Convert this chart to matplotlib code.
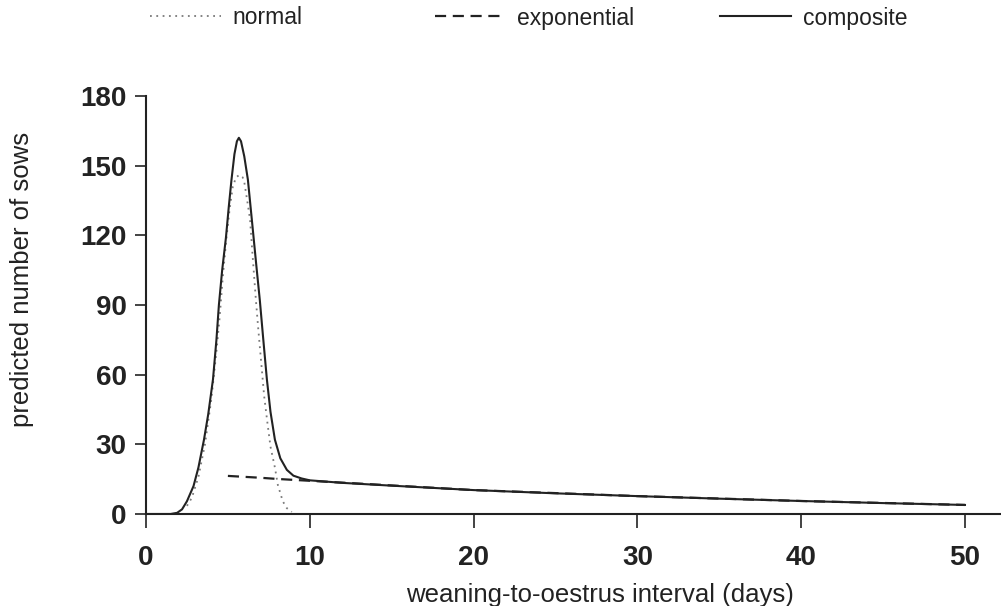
import matplotlib
matplotlib.use('Agg')
from matplotlib import pyplot as plt

plt.rcParams['font.family'] = ['Liberation Sans', 'DejaVu Sans']

# values
comp_x = [0, 1.0, 1.5, 1.9, 2.2, 2.5, 2.9, 3.2, 3.54, 3.8, 4.09, 4.3, 4.45, 4.65,
          4.88, 5.05, 5.22, 5.4, 5.55, 5.67, 5.8, 6.0, 6.22, 6.5, 6.75, 6.95,
          7.15, 7.38, 7.6, 7.87, 8.2, 8.6, 9.0, 9.5, 10,
          12, 15, 20, 25, 30, 35, 40, 45, 50]
comp_y = [0, 0, 0, 0.5, 2, 5.5, 12, 20, 32, 43, 58, 75, 90, 105,
          119, 132, 144, 155, 160.5, 162, 160.5, 154, 144, 124, 106, 92,
          76, 58, 44, 32, 24, 19, 16.5, 15.3, 14.5,
          13.4, 12.2, 10.3, 8.9, 7.7, 6.6, 5.6, 4.7, 3.9]

norm_x = [2.5, 2.8, 3.2, 3.6, 4.0, 4.3, 4.5, 4.7, 4.9, 5.1, 5.3, 5.5, 5.7, 5.9,
          6.0, 6.2, 6.35, 6.5, 6.7, 6.85, 7.05, 7.21, 7.4, 7.6, 7.87, 8.05,
          8.35, 8.6, 8.9]
norm_y = [3.5, 7, 16, 30, 50, 70, 85, 103, 118, 131, 141, 145, 146, 145,
          143, 134, 127, 112, 93, 80, 64, 51, 40, 29, 20, 12.5,
          5.5, 2.5, 0.9]

expo_x = [5, 6, 7, 8, 9, 10, 20, 30, 40, 50]
expo_y = [16.4, 16.0, 15.6, 15.1, 14.7, 14.3, 10.3, 7.7, 5.6, 3.9]

xticks = [0, 10, 20, 30, 40, 50]
yticks = [0, 30, 60, 90, 120, 150, 180]

W, H = 1001, 606
fig = plt.figure(figsize=(W / 100, H / 100), dpi=100)
ax = fig.add_axes([146 / W, 1 - 514 / H, 1 - 146 / W, (514 - 96) / H])

l_norm, = ax.plot(norm_x, norm_y, color='#7a7a7a', lw=1.3, linestyle=(0, (1, 2.5)), zorder=2)
l_expo, = ax.plot(expo_x, expo_y, color='#222222', lw=1.6, linestyle=(0, (5, 3)), zorder=2)
l_comp, = ax.plot(comp_x, comp_y, color='#222222', lw=1.5, zorder=3)

ax.set_xlim(0, 52.2)
ax.set_ylim(0, 180)
ax.set_xticks(xticks)
ax.set_yticks(yticks)
ax.tick_params(axis='x', direction='out', length=10, width=1.2, colors='#222222',
               labelsize=20, pad=12)
ax.tick_params(axis='y', direction='out', length=8, width=1.2, colors='#222222',
               labelsize=20, pad=6)
for lab in ax.get_xticklabels() + ax.get_yticklabels():
    lab.set_fontweight('bold')
for s in ['top', 'right']:
    ax.spines[s].set_visible(False)
for s in ['left', 'bottom']:
    ax.spines[s].set_linewidth(1.5)
    ax.spines[s].set_color('#222222')

ax.set_xlabel('weaning-to-oestrus interval (days)', fontsize=18.5, color='#222222', va='center')
ax.set_ylabel('predicted number of sows', fontsize=18.5, color='#222222', va='center')
ax.xaxis.set_label_coords(0.531, -0.194)
ax.yaxis.set_label_coords(-0.145, 0.562)

# legend items sit at fixed spots above the plot, as in the original
leg_items = [(l_norm, 'normal', 150), (l_expo, 'exponential', 435), (l_comp, 'composite', 720)]
for handle, text, xpix in leg_items:
    fig.legend(handles=[handle], labels=[text], loc='center left',
               bbox_to_anchor=(xpix / W, 1 - 18 / H), frameon=False, fontsize=16.5,
               handlelength=3.1, handletextpad=0.5, borderpad=0, borderaxespad=0,
               labelcolor='#222222')

plt.savefig('out.png', dpi=100)
